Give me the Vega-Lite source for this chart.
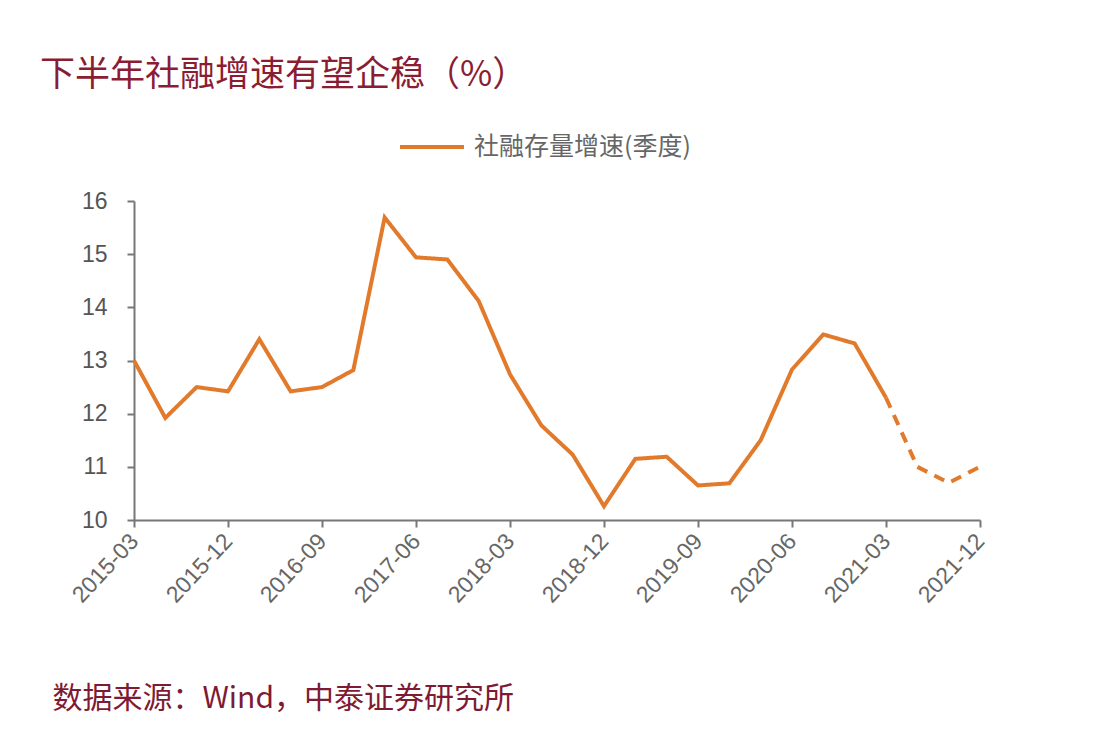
{
  "$schema": "https://vega.github.io/schema/vega-lite/v6.json",
  "autosize": {"type": "none"},
  "width": 846,
  "height": 319,
  "padding": {"left": 134, "top": 201, "right": 122, "bottom": 232},
  "background": "#ffffff",
  "config": {
    "view": {"stroke": null},
    "font": "Noto Sans CJK SC"
  },
  "title": {
    "text": "下半年社融增速有望企稳（%）",
    "anchor": "start",
    "frame": "group",
    "dx": -94,
    "offset": 20,
    "fontSize": 35,
    "fontWeight": "normal",
    "color": "#8B1D33",
    "font": "Noto Sans CJK SC"
  },
  "data": {
    "values": [
      {"q": "2015-03", "v": 13.0, "seg": "actual"},
      {"q": "2015-06", "v": 11.92, "seg": "actual"},
      {"q": "2015-09", "v": 12.5, "seg": "actual"},
      {"q": "2015-12", "v": 12.42, "seg": "actual"},
      {"q": "2016-03", "v": 13.4, "seg": "actual"},
      {"q": "2016-06", "v": 12.42, "seg": "actual"},
      {"q": "2016-09", "v": 12.5, "seg": "actual"},
      {"q": "2016-12", "v": 12.82, "seg": "actual"},
      {"q": "2017-03", "v": 15.69, "seg": "actual"},
      {"q": "2017-06", "v": 14.94, "seg": "actual"},
      {"q": "2017-09", "v": 14.9, "seg": "actual"},
      {"q": "2017-12", "v": 14.12, "seg": "actual"},
      {"q": "2018-03", "v": 12.74, "seg": "actual"},
      {"q": "2018-06", "v": 11.78, "seg": "actual"},
      {"q": "2018-09", "v": 11.23, "seg": "actual"},
      {"q": "2018-12", "v": 10.26, "seg": "actual"},
      {"q": "2019-03", "v": 11.15, "seg": "actual"},
      {"q": "2019-06", "v": 11.19, "seg": "actual"},
      {"q": "2019-09", "v": 10.65, "seg": "actual"},
      {"q": "2019-12", "v": 10.69, "seg": "actual"},
      {"q": "2020-03", "v": 11.5, "seg": "actual"},
      {"q": "2020-06", "v": 12.83, "seg": "actual"},
      {"q": "2020-09", "v": 13.49, "seg": "actual"},
      {"q": "2020-12", "v": 13.32, "seg": "actual"},
      {"q": "2021-03", "v": 12.3, "seg": "actual"},
      {"q": "2021-03", "v": 12.3, "seg": "forecast"},
      {"q": "2021-06", "v": 11.0, "seg": "forecast"},
      {"q": "2021-09", "v": 10.7, "seg": "forecast"},
      {"q": "2021-12", "v": 11.0, "seg": "forecast"}
    ]
  },
  "transform": [{"calculate": "'社融存量增速(季度)'", "as": "series"}],
  "mark": {"type": "line", "strokeWidth": 4, "strokeCap": "butt"},
  "encoding": {
    "x": {
      "field": "q",
      "type": "ordinal",
      "scale": {"type": "point", "padding": 0},
      "axis": {
        "values": ["2015-03","2015-12","2016-09","2017-06","2018-03","2018-12","2019-09","2020-06","2021-03","2021-12"],
        "labelAngle": -47,
        "labelFontSize": 23,
        "labelColor": "#666666",
        "labelFont": "Liberation Sans",
        "labelPadding": 10,
        "domainColor": "#777777",
        "domainWidth": 2,
        "tickColor": "#777777",
        "tickWidth": 2,
        "tickSize": 7,
        "grid": false,
        "title": "数据来源：Wind，中泰证券研究所",
        "titleAnchor": "start",
        "titleAlign": "left",
        "titleBaseline": "alphabetic",
        "titleX": -82,
        "titleY": 187,
        "titleFontSize": 30,
        "titleFontWeight": "normal",
        "titleColor": "#7F1A33",
        "titleFont": "Noto Sans CJK SC"
      }
    },
    "y": {
      "field": "v",
      "type": "quantitative",
      "scale": {"domain": [10, 16], "zero": false, "nice": false},
      "axis": {
        "values": [10, 11, 12, 13, 14, 15, 16],
        "title": null,
        "grid": false,
        "labelFontSize": 23,
        "labelColor": "#555555",
        "labelFont": "Liberation Sans",
        "labelPadding": 20,
        "domainColor": "#777777",
        "domainWidth": 2,
        "tickColor": "#777777",
        "tickWidth": 2,
        "tickSize": 7
      }
    },
    "color": {
      "field": "series",
      "type": "nominal",
      "scale": {"range": ["#E27A2C"]},
      "legend": {
        "title": null,
        "orient": "none",
        "legendX": 264,
        "legendY": -88,
        "symbolType": "stroke",
        "symbolSize": 4096,
        "symbolStrokeWidth": 4,
        "labelFontSize": 25,
        "labelColor": "#666666",
        "labelFont": "Noto Sans CJK SC",
        "labelLimit": 400,
        "labelOffset": 8
      }
    },
    "strokeDash": {
      "field": "seg",
      "type": "nominal",
      "scale": {"domain": ["actual", "forecast"], "range": [[1, 0], [11, 8]]},
      "legend": null
    },
    "detail": {"field": "seg"}
  }
}
